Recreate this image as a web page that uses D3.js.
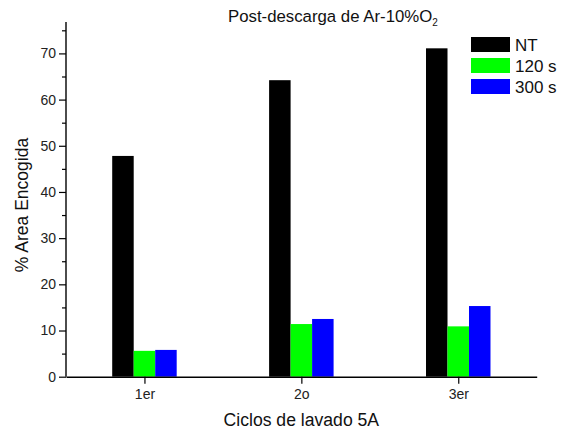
<!DOCTYPE html>
<html>
<head>
<meta charset="utf-8">
<script src="https://cdn.jsdelivr.net/npm/d3@7"></script>
<style>
  html, body { margin: 0; padding: 0; background: #fff; }
  svg { display: block; font-family: "Liberation Sans", Arial, sans-serif; }
</style>
</head>
<body>
<svg id="chart" width="561" height="433"></svg>
<script>
// Washing cycles and shrunk-area percentages per treatment
const categories = ["1er", "2o", "3er"];
const seriesNames = ["NT", "120 s", "300 s"];
const seriesColors = ["#000000", "#00ff00", "#0000ff"];
const ntValues = [47.8, 64.2, 71.1];
const s120Values = [5.6, 11.4, 10.9];
const s300Values = [5.8, 12.5, 15.3];
const yMajorTicks = [0, 10, 20, 30, 40, 50, 60, 70];
const yMinorTicks = [5, 15, 25, 35, 45, 55, 65, 75];

const seriesValues = [ntValues, s120Values, s300Values];

const svg = d3.select("#chart");
const plotLeft = 66, plotRight = 536.7, plotTop = 22, plotBottom = 376.7;

const x = d3.scaleLinear().domain([0.5, categories.length + 0.5]).range([plotLeft, plotRight]);
const y = d3.scaleLinear().domain([0, 76.8]).range([plotBottom, plotTop]);

const barW = 0.137; // bar width in category units
const offsets = [-1, 0, 1];

// bars
seriesValues.forEach((vals, si) => {
  svg.append("g").selectAll("rect")
    .data(vals)
    .join("rect")
    .attr("x", (d, i) => x(i + 1 + (offsets[si] - 0.5) * barW))
    .attr("width", x(1 + barW) - x(1))
    .attr("y", d => y(d))
    .attr("height", d => y(0) - y(d))
    .attr("fill", seriesColors[si]);
});

// y axis
const yAxis = svg.append("g").attr("transform", `translate(${plotLeft},0)`)
  .call(d3.axisLeft(y).tickValues(yMajorTicks).tickSize(7).tickPadding(3).tickSizeOuter(0));
yAxis.select(".domain").attr("d", `M0,${plotTop}V${plotBottom}`);
svg.append("g").attr("transform", `translate(${plotLeft},0)`)
  .call(d3.axisLeft(y).tickValues(yMinorTicks).tickSize(4).tickFormat(""))
  .select(".domain").remove();

// x axis
svg.append("g").attr("transform", `translate(0,${plotBottom})`)
  .call(d3.axisBottom(x).tickValues(d3.range(1, categories.length + 1))
    .tickFormat(d => categories[d - 1]).tickSize(7).tickPadding(5).tickSizeOuter(0));

svg.selectAll(".domain").attr("stroke", "#000").attr("stroke-width", 1.4);
svg.selectAll(".tick line").attr("stroke", "#000").attr("stroke-width", 1.2);
svg.selectAll(".tick text").attr("font-size", 14).attr("fill", "#222")
  .attr("font-family", "'Liberation Sans', Arial, sans-serif");

// title
const title = svg.append("text")
  .attr("x", 228).attr("y", 22)
  .attr("font-size", 16.8).attr("fill", "#111");
title.append("tspan").text("Post-descarga de Ar-10%O");
title.append("tspan").attr("font-size", 10).attr("dy", 4).text("2");

// axis titles
svg.append("text")
  .attr("x", (plotLeft + plotRight) / 2).attr("y", 426)
  .attr("text-anchor", "middle").attr("font-size", 17.6).attr("fill", "#111")
  .text("Ciclos de lavado 5A");

svg.append("text")
  .attr("transform", "translate(28,205) rotate(-90)")
  .attr("text-anchor", "middle").attr("font-size", 17.5).attr("fill", "#111")
  .text("% Area Encogida");

// legend
const legend = svg.append("g").attr("transform", "translate(471,37)");
seriesNames.forEach((name, i) => {
  const row = legend.append("g").attr("transform", `translate(0,${i * 21})`);
  row.append("rect").attr("width", 39).attr("height", 15).attr("fill", seriesColors[i]);
  row.append("text").attr("x", 44).attr("y", 13.5)
    .attr("font-size", 17).attr("fill", "#111").text(name);
});
</script>
</body>
</html>
